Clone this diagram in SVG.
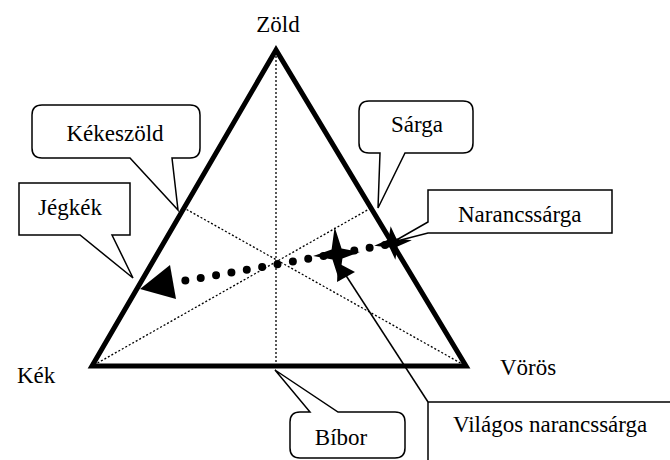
<svg xmlns="http://www.w3.org/2000/svg" width="670" height="460" viewBox="0 0 670 460">
<style>
.t{font-family:'Liberation Serif','DejaVu Serif',serif;font-size:23px;fill:#000}
.mid{text-anchor:middle}
.tri{fill:none;stroke:#000;stroke-width:5;stroke-linejoin:miter}
.dot{fill:none;stroke:#000;stroke-width:1.3;stroke-dasharray:2 2}
.call{fill:#fff;stroke:#000;stroke-width:1.5;stroke-linejoin:miter}
.star{fill:#000;stroke:none}
</style>
<rect width="670" height="460" fill="#fff"/>
<g id="triangle">
<line class="dot" x1="276" y1="52" x2="276" y2="366"/>
<line class="dot" x1="94" y1="365" x2="371" y2="208"/>
<line class="dot" x1="464" y1="365" x2="184" y2="208"/>
<polygon class="tri" points="276,50 92,366 466,366"/>
</g>
<g id="vertex-labels" font-family="Liberation Serif, serif">
<text class="t mid" x="278" y="32">Zöld</text>
<text class="t" x="17" y="383">Kék</text>
<text class="t" x="500" y="375">Vörös</text>
</g>
<g id="connectors">
<line x1="385" y1="245" x2="172" y2="283" stroke="#000" stroke-width="8" stroke-linecap="round" stroke-dasharray="0 15.6"/>
<polygon points="140,289 170,265 176,299" fill="#000"/>
<line x1="428" y1="402" x2="345" y2="274" stroke="#000" stroke-width="1.5"/>
<polygon points="338,263 355,272 337,282" fill="#000"/>
</g>
<g id="star-narancssarga">
<polygon class="star" transform="translate(393,243) rotate(-8)" points="0,-17 4,-4 19,0 4,4 0,17 -4,4 -19,0 -4,-4"/>
</g>
<g id="star-vilagos">
<polygon class="star" transform="translate(337,254) rotate(-5)" points="0,-27 5,-5 23,0 5,5 0,27 -5,5 -24,0 -5,-5"/>
</g>
<g id="kekeszold">
<path class="call" d="M42,105 H190 Q200,105 200,115 V148 Q200,158 190,158 H172 L178,210 L130,158 H42 Q32,158 32,148 V115 Q32,105 42,105 Z"/>
<text class="t mid" x="115" y="141">Kékeszöld</text>
</g>
<g id="sarga">
<path class="call" d="M369,101 H463 Q473,101 473,111 V143 Q473,153 463,153 H405 L378,208 L380,153 H369 Q359,153 359,143 V111 Q359,101 369,101 Z"/>
<text class="t mid" x="417" y="132">Sárga</text>
</g>
<g id="jegkek">
<path class="call" d="M19,183 H130 V235 H112 L133,278 L80,235 H19 Z"/>
<text class="t mid" x="70" y="215">Jégkék</text>
</g>
<g id="narancssarga">
<path class="call" d="M428,190 H612 V233 H428 L393,242 L428,222 Z"/>
<text class="t" x="458" y="222">Narancssárga</text>
</g>
<g id="bibor">
<path class="call" d="M300,412 H310 L275,370 L338,412 H395 Q405,412 405,422 V448 Q405,458 395,458 H300 Q290,458 290,448 V422 Q290,412 300,412 Z"/>
<text class="t mid" x="341" y="445">Bíbor</text>
</g>
<g id="vilagos-narancssarga">
<path class="call" d="M428,470 V402 H680"/>
<text class="t" x="453" y="432">Világos narancssárga</text>
</g>
</svg>
